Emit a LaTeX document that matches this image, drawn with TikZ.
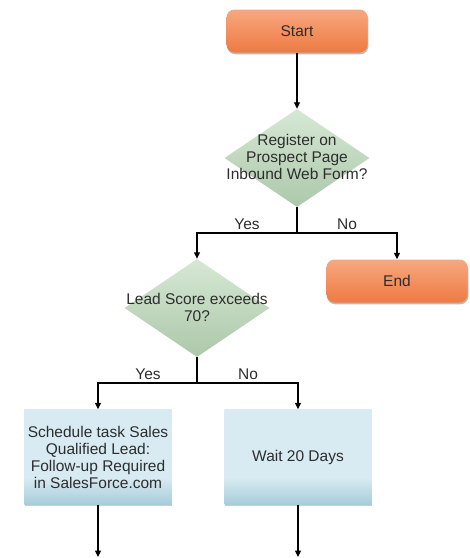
\documentclass[tikz,border=0pt]{standalone}
\usepackage{fontspec}
\setmainfont{Liberation Sans}
\usetikzlibrary{shapes.geometric,arrows.meta,shadows}
\definecolor{orgtop}{RGB}{247,168,128}
\definecolor{orgbot}{RGB}{238,122,66}
\definecolor{grntop}{RGB}{214,232,212}
\definecolor{grnbot}{RGB}{172,200,170}
\definecolor{blulight}{RGB}{216,234,242}
\definecolor{bludark}{RGB}{166,204,218}
\definecolor{txt}{RGB}{45,45,45}
\pgfdeclareverticalshading{bluebox}{100bp}{color(0bp)=(bludark); color(25bp)=(bludark); color(39bp)=(blulight); color(100bp)=(blulight)}
\begin{document}
\begin{tikzpicture}[x=1pt,y=-1pt,
  font=\fontsize{15.5}{17}\selectfont, text=txt,
  terminal/.style={rectangle, rounded corners=8pt, minimum width=141pt, minimum height=43pt,
    top color=orgtop, bottom color=orgbot, draw=none,
    drop shadow={shadow xshift=0.8pt, shadow yshift=-1.8pt, fill=black!45, opacity=0.6}},
  decision/.style={diamond, minimum width=145pt, minimum height=98pt, inner sep=0pt,
    top color=grntop, bottom color=grnbot, draw=none},
  dtext/.style={align=center, inner sep=0pt},
  process/.style={rectangle, minimum width=147pt, minimum height=95pt, shading=bluebox, draw=none,
    align=center, drop shadow={shadow xshift=0.6pt, shadow yshift=-1.2pt, fill=black!40, opacity=0.5}},
  conn/.style={draw=black, line width=1.2pt},
  arr/.style={conn, -{Triangle[width=6pt,length=6.5pt]}},
  lbl/.style={inner sep=0pt}
]
\useasboundingbox (0,0) rectangle (470,558);

\node[terminal] (start) at (297,31) {Start};
\node[decision] (d1) at (297,158) {};
\node[dtext] (d1t) at (297,157) {Register on\\Prospect Page\\Inbound Web Form?};
\node[terminal] (end) at (397,281) {End};
\node[decision] (d2) at (197,308) {};
\node[dtext] (d2t) at (197,307) {Lead Score exceeds\\70?};
\node[process] (p1) at (98,457) {Schedule task Sales\\Qualified Lead:\\Follow-up Required\\in SalesForce.com};
\node[process] (p2) at (298,457) {Wait 20 Days};

\coordinate (j1) at (297,233);
\coordinate (j2) at (197,383);
\coordinate (e1) at (98,557);
\coordinate (e2) at (298,557);

\draw[arr] (start.south) -- (d1.north);
\draw[conn] (d1.south) -- (j1);
\draw[arr] (j1) -| (d2.north);
\draw[arr] (j1) -| (end.north);
\draw[conn] (d2.south) -- (j2);
\draw[arr] (j2) -| (p1.north);
\draw[arr] (j2) -| (p2.north);
\draw[arr] (p1.south) -- (e1);
\draw[arr] (p2.south) -- (e2);

\node[lbl] (y1) at (247,224) {Yes};
\node[lbl] (n1) at (347,224) {No};
\node[lbl] (y2) at (148,374) {Yes};
\node[lbl] (n2) at (248,374) {No};
\end{tikzpicture}
\end{document}
